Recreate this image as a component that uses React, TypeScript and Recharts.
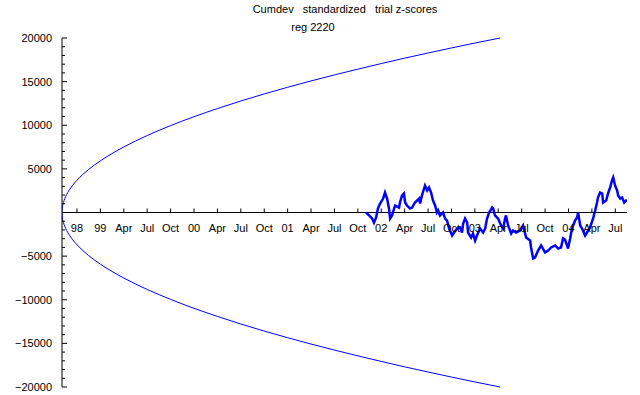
import React from 'react';
import {
  ComposedChart, Line, Scatter, XAxis, YAxis, ReferenceLine,
} from 'recharts';

// x is measured in quarters, 0 = the "98" tick
const xTickPos = [0, 1, 2, 3, 4, 5, 6, 7, 8, 9, 10, 11, 12, 13, 14, 15, 16, 17, 18, 19, 20, 21, 22, 23];
const xTickLabels = ['98', '99', 'Apr', 'Jul', 'Oct', '00', 'Apr', 'Jul', 'Oct', '01', 'Apr', 'Jul', 'Oct',
  '02', 'Apr', 'Jul', 'Oct', '03', 'Apr', 'Jul', 'Oct', '04', 'Apr', 'Jul'];

// envelope curves
const envX = [-0.64, -0.62, -0.58, -0.52, -0.44, -0.34, -0.2, 0, 0.25, 0.5, 1, 1.5, 2, 2.5, 3, 4, 5, 6, 7, 8,
  9, 10, 11, 12, 13, 14, 15, 16, 17, 18.08];
const envUpper = [0, 650, 1130, 1600, 2070, 2530, 3070, 3700, 4360, 4940, 5920, 6760, 7510, 8190, 8820, 9960,
  10980, 11910, 12780, 13590, 14350, 15080, 15770, 16430, 17070, 17690, 18280, 18860, 19420, 20000];
const envLower = [0, -650, -1130, -1600, -2070, -2530, -3070, -3700, -4360, -4940, -5920, -6760, -7510, -8190,
  -8820, -9960, -10980, -11910, -12780, -13590, -14350, -15080, -15770, -16430, -17070, -17690, -18280, -18860,
  -19420, -20000];

// cumulative deviation
const walkX = [12.35, 12.48, 12.61, 12.69, 12.78, 12.86, 12.95, 13.08, 13.16, 13.25, 13.33, 13.38, 13.46, 13.55,
  13.59, 13.76, 13.8, 13.89, 13.97, 14.02, 14.1, 14.23, 14.32, 14.44, 14.62, 14.66, 14.74, 14.83, 14.87, 14.96,
  15.04, 15.13, 15.21, 15.3, 15.38, 15.43, 15.51, 15.64, 15.73, 15.81, 15.9, 16.03, 16.11, 16.24, 16.37, 16.45,
  16.5, 16.58, 16.67, 16.71, 16.84, 16.92, 17.01, 17.09, 17.22, 17.35, 17.44, 17.52, 17.61, 17.74, 17.78, 17.86,
  17.99, 18.12, 18.21, 18.29, 18.33, 18.42, 18.55, 18.63, 18.76, 18.93, 19.06, 19.19, 19.36, 19.4, 19.49, 19.57,
  19.7, 19.83, 20.0, 20.13, 20.26, 20.43, 20.56, 20.68, 20.77, 20.85, 20.94, 20.98, 21.07, 21.15, 21.2, 21.28,
  21.37, 21.41, 21.5, 21.58, 21.71, 21.79, 21.92, 22.05, 22.14, 22.22, 22.26, 22.35, 22.44, 22.48, 22.61, 22.69,
  22.78, 22.86, 22.91, 22.99, 23.08, 23.12, 23.21, 23.29, 23.38, 23.46, 23.5];
const walkY = [0, -340, -690, -1150, -570, 460, 1030, 1600, 2290, 1600, 460, -690, -340, 460,
  800, 570, 1150, 1950, 2180, 1150, 800, 460, 570, 1150, 1600, 1030, 1950, 2750, 3090, 2520,
  2870, 2290, 1380, 800, 0, 230, -340, 0, -690, -920, -1830, -2640, -2290, -1830, -1720, -2290,
  -1260, -690, -1150, -2290, -2870, -2410, -3210, -2640, -1830, -2290, -1830, -690, 0, 570, 460, -340,
  -690, -1490, -1830, -690, -340, -1490, -2410, -2060, -2290, -2060, -1490, -2870, -3210, -4010, -5270, -5160,
  -4360, -3780, -4580, -4360, -4010, -3780, -4130, -4010, -2980, -3100, -3780, -4130, -2980, -1830, -1490, -920,
  -570, 0, -1490, -1830, -2640, -2290, -1720, -690, 230, 1150, 1720, 2290, 2180, 1150, 1380, 2180,
  2870, 3670, 4010, 3090, 2520, 1950, 1600, 1720, 1150, 1380, 1380];

const yMajorLabels: Record<number, string> = {
  20000: '20000', 15000: '15000', 10000: '10000', 5000: '5000',
  [-5000]: '\u22125000', [-10000]: '\u221210000', [-15000]: '\u221215000', [-20000]: '\u221220000',
};
const yTicks = Array.from({ length: 41 }, (_, i) => -20000 + i * 1000);

const FONT = '"Liberation Sans", Arial, sans-serif';
const BLUE = '#0000ff';

const toPts = (xs: number[], ys: number[]) => xs.map((x, i) => ({ x, y: ys[i] }));
const upperData = toPts(envX, envUpper);
const lowerData = toPts(envX, envLower);
const walkData = toPts(walkX, walkY);
const xTickData = xTickPos.map((x, i) => ({ x, y: 0, label: xTickLabels[i] }));

const YTick = (props: any) => {
  const { x, y, payload } = props;
  const v = payload.value as number;
  const major = v % 5000 === 0;
  const label = yMajorLabels[v];
  return (
    <g>
      <line x1={x} y1={y} x2={x + (major ? 5 : 3)} y2={y} stroke="#000" strokeWidth={1} />
      {label && (
        <text x={x - 10} y={y + 4} textAnchor="end" fontSize={11} fontFamily={FONT} fill="#000">{label}</text>
      )}
    </g>
  );
};

const XTickShape = (props: any) => {
  const { cx, cy, payload } = props;
  return (
    <g>
      <line x1={cx} y1={cy} x2={cx} y2={cy - 4} stroke="#000" strokeWidth={1} />
      <text x={cx} y={cy + 19} textAnchor="middle" fontSize={11} fontFamily={FONT} fill="#000">{payload.label}</text>
    </g>
  );
};

export default function App() {
  return (
    <div style={{ position: 'absolute', left: 0, top: 0, width: 640, height: 395, background: '#fff' }}>
      <ComposedChart width={640} height={395} margin={{ top: 38, right: 13, bottom: 8, left: 0 }}>
        <XAxis dataKey="x" type="number" domain={[-0.64, 23.5]} allowDataOverflow hide />
        <YAxis
          dataKey="y" type="number" domain={[-20000, 20000]} ticks={yTicks} interval={0}
          width={62} tickSize={0} tickMargin={0} tickLine={false}
          axisLine={{ stroke: '#000', strokeWidth: 1 }} tick={<YTick />}
        />
        <ReferenceLine y={0} stroke="#000" strokeWidth={1} />
        <Line data={upperData} dataKey="y" type="monotone" stroke={BLUE} strokeWidth={1} dot={false} isAnimationActive={false} />
        <Line data={lowerData} dataKey="y" type="monotone" stroke={BLUE} strokeWidth={1} dot={false} isAnimationActive={false} />
        <Line data={walkData} dataKey="y" type="linear" stroke={BLUE} strokeWidth={2.5} dot={false} isAnimationActive={false} />
        <Scatter data={xTickData} dataKey="y" shape={<XTickShape />} isAnimationActive={false} />
      </ComposedChart>
      <svg width={640} height={40} style={{ position: 'absolute', left: 0, top: 0, pointerEvents: 'none' }}>
        <text x={345} y={13} textAnchor="middle" fontSize={11} fontFamily={FONT} fill="#000" style={{ whiteSpace: 'pre' }}>
          {'Cumdev   standardized   trial z-scores'}
        </text>
        <text x={313} y={31} textAnchor="middle" fontSize={11} fontFamily={FONT} fill="#000">reg 2220</text>
      </svg>
    </div>
  );
}
